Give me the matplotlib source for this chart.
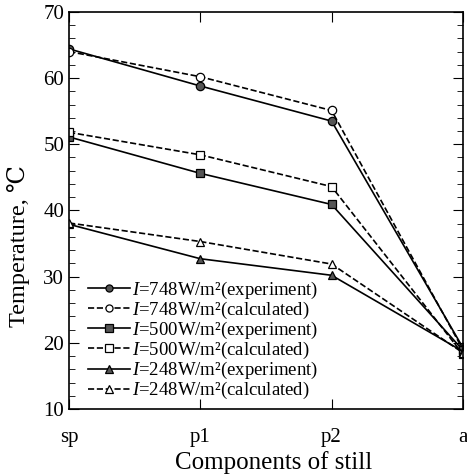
import matplotlib
matplotlib.use("Agg")
import matplotlib.pyplot as plt
from matplotlib.ticker import MultipleLocator

plt.rcParams['font.family'] = ['Liberation Serif', 'DejaVu Serif']
plt.rcParams['mathtext.fontset'] = 'custom'
plt.rcParams['mathtext.rm'] = 'Liberation Serif'
plt.rcParams['mathtext.it'] = 'Liberation Serif:italic'

components = ['sp', 'p1', 'p2', 'a']
exp_748 = [64.4, 58.8, 53.5, 19.3]
calc_748 = [64.0, 60.2, 55.1, 19.0]
exp_500 = [51.1, 45.6, 40.9, 18.9]
calc_500 = [51.8, 48.4, 43.6, 18.3]
exp_248 = [37.9, 32.7, 30.2, 18.7]
calc_248 = [38.1, 35.3, 31.9, 18.5]

x = list(range(len(components)))

fig = plt.figure(figsize=(4.67, 4.75), dpi=100)
ax = fig.add_axes([0.148, 0.139, 0.843, 0.836])

style = dict(color='black', lw=1.2, ms=6, mec='black', mew=0.9)
ax.plot(x, exp_748, '-', marker='o', mfc='#555555', label=r'$I$=748W/m²(experiment)', **style)
ax.plot(x, calc_748, '--', marker='o', mfc='white', label=r'$I$=748W/m²(calculated)', **style)
ax.plot(x, exp_500, '-', marker='s', mfc='#555555', label=r'$I$=500W/m²(experiment)', **style)
ax.plot(x, calc_500, '--', marker='s', mfc='white', label=r'$I$=500W/m²(calculated)', **style)
ax.plot(x, exp_248, '-', marker='^', mfc='#555555', label=r'$I$=248W/m²(experiment)', **style)
ax.plot(x, calc_248, '--', marker='^', mfc='white', label=r'$I$=248W/m²(calculated)', **style)

ax.set_xlim(0, 3)
ax.set_ylim(10, 70)
ax.set_xticks(x)
ax.set_xticklabels(components)
ax.yaxis.set_major_locator(MultipleLocator(10))
ax.yaxis.set_minor_locator(MultipleLocator(2))
ax.tick_params(direction='in', which='both', top=True, right=True, labelsize=15)
ax.tick_params(axis='x', pad=14)
ax.tick_params(which='major', length=7)
ax.tick_params(which='minor', length=4)
for s in ax.spines.values():
    s.set_linewidth(1.2)

ax.set_xlabel('Components of still', fontsize=18)
ax.xaxis.set_label_coords(0.52, -0.105)
ax.set_ylabel('Temperature, \u2103', fontsize=17.5)
ax.yaxis.set_label_coords(-0.1, 0.41)

ax.legend(loc='lower left', bbox_to_anchor=(0.03, 0.0), frameon=False, fontsize=13.5,
          handlelength=2.2, handletextpad=0.1, labelspacing=-0.05, borderaxespad=0.0,
          markerscale=0.85)

fig.savefig('out.png', dpi=100)
